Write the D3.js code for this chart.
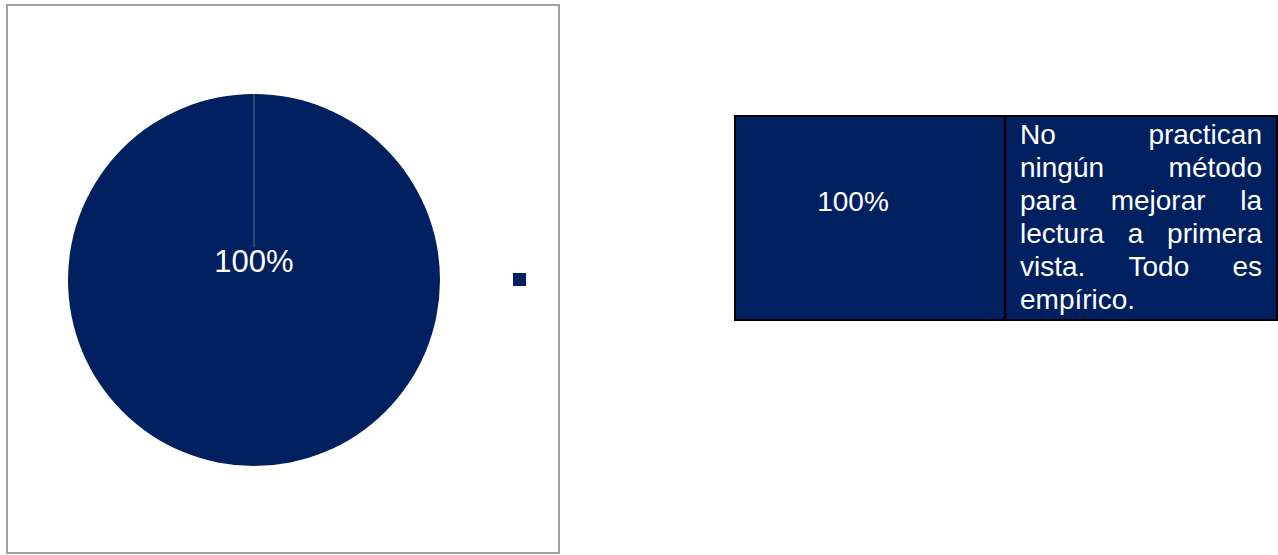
<!DOCTYPE html>
<html>
<head>
<meta charset="utf-8">
<script src="https://cdn.jsdelivr.net/npm/d3@7"></script>
<style>
  html, body { margin: 0; padding: 0; background: #fff; }
  svg { display: block; font-family: "Liberation Sans", Arial, sans-serif; }
</style>
</head>
<body>
<div class="svg-wrapper"></div>
<script>
// data
var categories = ["No practican ningún método para mejorar la lectura a primera vista. Todo es empírico."];
var values     = [100];
var pctLabels  = ["100%"];
var tableLines = ["No practican", "ningún método", "para mejorar la", "lectura a primera", "vista. Todo es", "empírico."];

var navy = "#002060";
var W = 1278, H = 555;

var svg = d3.select(".svg-wrapper").append("svg")
  .attr("width", W)
  .attr("height", H);

// chart frame
svg.append("rect")
  .attr("x", 7).attr("y", 5)
  .attr("width", 552).attr("height", 548)
  .attr("fill", "#fff")
  .attr("stroke", "#a0a0a0")
  .attr("stroke-width", 2);

var cx = 254, cy = 280, r = 186;
var labelY = -8, labelSize = 31;

var pie = d3.pie().sort(null).value(function(d) { return d; });
var arc = d3.arc().innerRadius(0).outerRadius(r);
var arcs = pie(values);

var g = svg.append("g").attr("transform", "translate(" + cx + "," + cy + ")");

g.selectAll("path.slice")
  .data(arcs)
  .enter().append("path")
  .attr("class", "slice")
  .attr("d", arc)
  .attr("fill", navy);

// slice edge line (start angle), stops just above the label
var inner = -(labelY - labelSize * 0.8);
g.selectAll("line.edge")
  .data(arcs)
  .enter().append("line")
  .attr("class", "edge")
  .attr("x1", function(d) { return Math.sin(d.startAngle) * r; })
  .attr("y1", function(d) { return -Math.cos(d.startAngle) * r; })
  .attr("x2", function(d) { return Math.sin(d.startAngle) * inner; })
  .attr("y2", function(d) { return -Math.cos(d.startAngle) * inner; })
  .attr("stroke", "#ffffff")
  .attr("stroke-opacity", 0.35)
  .attr("stroke-width", 1);

// label in the middle
g.selectAll("text.pct")
  .data(arcs)
  .enter().append("text")
  .attr("class", "pct")
  .attr("x", 0)
  .attr("y", labelY)
  .attr("text-anchor", "middle")
  .attr("fill", "#fff")
  .style("font-size", labelSize + "px")
  .text(function(d, i) { return pctLabels[i]; });

// legend marker (no text)
svg.selectAll("rect.legend")
  .data(categories)
  .enter().append("rect")
  .attr("class", "legend")
  .attr("x", 513).attr("y", 273)
  .attr("width", 13).attr("height", 13)
  .attr("fill", navy);

// table on the right
var tx0 = 735, tx1 = 1277, ty0 = 116, ty1 = 320, tdiv = 1005;
var tbl = svg.append("g");
tbl.append("rect")
  .attr("x", tx0).attr("y", ty0)
  .attr("width", tx1 - tx0).attr("height", ty1 - ty0)
  .attr("fill", navy)
  .attr("stroke", "#000")
  .attr("stroke-width", 2);
tbl.append("line")
  .attr("x1", tdiv).attr("x2", tdiv)
  .attr("y1", ty0).attr("y2", ty1)
  .attr("stroke", "#000")
  .attr("stroke-width", 2.5);

tbl.append("text")
  .attr("x", 853)
  .attr("y", 211)
  .attr("text-anchor", "middle")
  .attr("fill", "#fff")
  .style("font-size", "28px")
  .text(d3.sum(values) + "%");

// justified lines
var lx0 = 1020, lx1 = 1262, lineH = 33, base0 = 144;
tableLines.forEach(function(line, li) {
  var words = line.split(" ");
  var y = base0 + li * lineH;
  var nodes = words.map(function(w) {
    return tbl.append("text")
      .attr("y", y)
      .attr("fill", "#fff")
      .style("font-size", "28px")
      .text(w);
  });
  var widths = nodes.map(function(n) { return n.node().getComputedTextLength(); });
  var last = li == tableLines.length - 1;
  var gap = (!last && words.length > 1)
    ? (lx1 - lx0 - d3.sum(widths)) / (words.length - 1)
    : 7.5;
  var x = lx0;
  nodes.forEach(function(n, i) {
    n.attr("x", x);
    x += widths[i] + gap;
  });
});
</script>
</body>
</html>
